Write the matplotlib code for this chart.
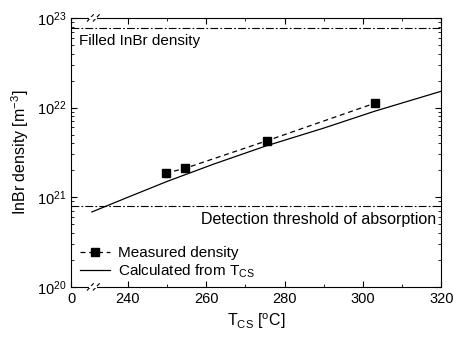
import matplotlib
matplotlib.use("Agg")
import matplotlib.pyplot as plt
import numpy as np

plt.rcParams['font.family'] = ['Liberation Sans', 'DejaVu Sans']
plt.rcParams['mathtext.fontset'] = 'custom'
plt.rcParams['mathtext.rm'] = 'Liberation Sans'
plt.rcParams['mathtext.it'] = 'Liberation Sans'

# measured InBr density vs cold spot temperature
t_meas = [249.6, 254.6, 275.4, 303.1]
n_meas = [1.85e21, 2.1e21, 4.25e21, 1.12e22]
n_err = [0.15e21, 0.18e21, 0.35e21, 0.9e21]

# calculated from T_CS
t_calc = [230.8, 240, 250, 262, 275, 290, 303, 320]
n_calc = [6.85e20, 1.0e21, 1.5e21, 2.35e21, 3.7e21, 5.9e21, 9.1e21, 1.52e22]

n_filled = 7.7e22
n_detect = 7.9e20

xticks = [225.5, 240, 260, 280, 300, 320]
xticklabels = ["0", "240", "260", "280", "300", "320"]

fig = plt.figure(figsize=(4.53, 3.44), dpi=100)
ax = fig.add_axes([0.157, 0.166, 0.817, 0.782])

ax.plot(t_calc, n_calc, color='black', lw=0.9, label=r'Calculated from T$_{\rm CS}$')
ax.errorbar(t_meas, n_meas, yerr=n_err, fmt='none', ecolor='0.5',
            elinewidth=0.5, capsize=1.5)
ax.plot(t_meas, n_meas, marker='s', color='black', ms=6,
        ls=(0, (4, 3)), lw=0.9, label='Measured density')
ax.axhline(n_filled, color='black', lw=0.8, ls=(0, (7, 2, 1.5, 2)))
ax.axhline(n_detect, color='black', lw=0.8, ls=(0, (7, 2, 1.5, 2)))

ax.text(0.02, 0.94, "Filled InBr density", transform=ax.transAxes,
        fontsize=11, va='top', ha='left')
ax.text(0.985, 0.28, "Detection threshold of absorption", transform=ax.transAxes,
        fontsize=11.5, va='top', ha='right')

ax.set_yscale('log')
ax.set_ylim(1e20, 1e23)
ax.set_xlim(225.5, 320)
ax.set_xticks(xticks)
ax.set_xticklabels(xticklabels)
ax.set_xticks([250, 270, 290, 310], minor=True)
ax.tick_params(which='both', direction='in', top=True, right=True, labelsize=10.5)
ax.tick_params(which='major', length=4)
ax.tick_params(which='minor', length=2)

ax.set_xlabel(r'T$_{\rm CS}$ [$^{\rm o}$C]', fontsize=11.5)
ax.set_ylabel(r'InBr density [m$^{-3}$]', fontsize=11.5)

# axis break marks
for y0 in (0, 1):
    for dx in (0.052, 0.068):
        ax.plot([dx - 0.008, dx + 0.008], [y0 - 0.012, y0 + 0.012],
                transform=ax.transAxes, color='black', lw=0.8, clip_on=False)
    ax.plot([0.052, 0.068], [y0, y0], transform=ax.transAxes,
            color='white', lw=1.5, clip_on=False, zorder=3)

handles, labels = ax.get_legend_handles_labels()
ax.legend(handles[::-1], labels[::-1], loc='lower left', frameon=False,
          fontsize=11, handlelength=2.0, handletextpad=0.5, borderaxespad=0.4,
          labelspacing=0.15, bbox_to_anchor=(-0.01, -0.02))

for s in ax.spines.values():
    s.set_linewidth(0.8)

fig.savefig('out.png', dpi=100)
